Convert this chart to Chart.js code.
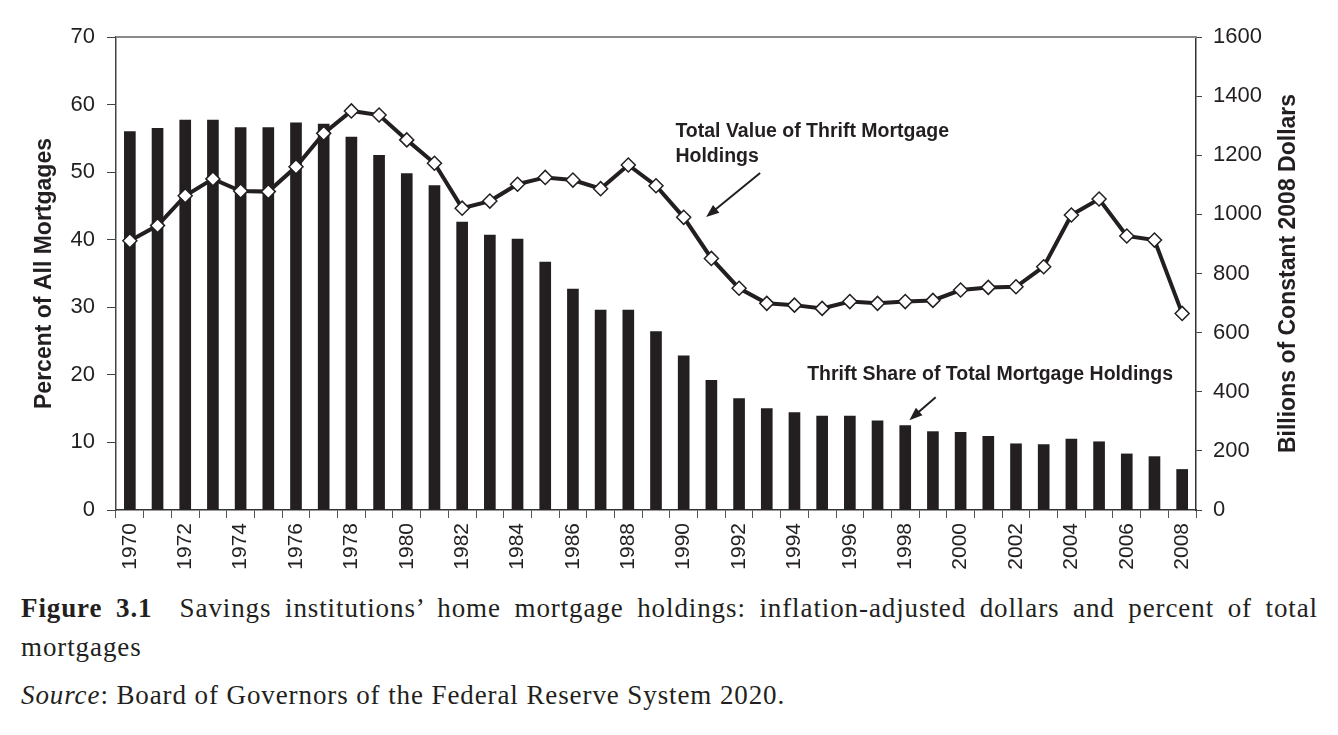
<!DOCTYPE html>
<html lang="en">
<head>
<meta charset="utf-8" />
<title>Figure 3.1 Savings institutions' home mortgage holdings</title>
<script src="https://cdn.jsdelivr.net/npm/chart.js"></script>
<style>
  html, body { margin: 0; padding: 0; background: #fff; }
  body { width: 1338px; height: 735px; position: relative; overflow: hidden; }
  #chartBox { position: absolute; left: 0; top: 0; width: 1338px; height: 580px; }
  .caption { position: absolute; left: 21px; width: 1297px; font-family: "Liberation Serif", "DejaVu Serif", serif; font-size: 27px; letter-spacing: 0.9px; color: #231f20; }
  #cap1 { top: 593px; text-align: justify; text-align-last: justify; }
  #cap2 { top: 632px; }
  #cap3 { top: 680px; }
</style>
</head>
<body>
<div id="chartBox"><canvas id="thriftChart"></canvas></div>
<div class="caption" id="cap1"><b>Figure 3.1</b>&nbsp; Savings institutions’ home mortgage holdings: inflation-adjusted dollars and percent of total</div>
<div class="caption" id="cap2">mortgages</div>
<div class="caption" id="cap3"><i>Source</i>: Board of Governors of the Federal Reserve System 2020.</div>

<script>
// categories
const years = ['1970', '1971', '1972', '1973', '1974', '1975', '1976', '1977', '1978', '1979',
               '1980', '1981', '1982', '1983', '1984', '1985', '1986', '1987', '1988', '1989',
               '1990', '1991', '1992', '1993', '1994', '1995', '1996', '1997', '1998', '1999',
               '2000', '2001', '2002', '2003', '2004', '2005', '2006', '2007', '2008'];

// thrift share of total mortgage holdings (percent, left axis)
const sharePct = [56.0, 56.5, 57.7, 57.7, 56.6, 56.6, 57.3, 57.1, 55.2, 52.5,
                  49.8, 48.0, 42.6, 40.7, 40.1, 36.7, 32.7, 29.6, 29.6, 26.4,
                  22.8, 19.2, 16.5, 15.0, 14.4, 13.9, 13.9, 13.2, 12.5, 11.6,
                  11.5, 10.9, 9.8, 9.7, 10.5, 10.1, 8.3, 7.9, 6.0];

// total value of thrift mortgage holdings (billions of 2008 dollars, right axis)
const valueBn = [911, 962, 1063, 1120, 1079, 1077, 1161, 1274, 1350, 1336,
                 1252, 1173, 1021, 1045, 1102, 1125, 1116, 1087, 1167, 1097,
                 990, 851, 750, 699, 693, 682, 705, 699, 705, 709,
                 744, 753, 755, 823, 998, 1052, 927, 913, 665];

// tick labels
const leftTicks = [0, 10, 20, 30, 40, 50, 60, 70];
const rightTicks = [0, 200, 400, 600, 800, 1000, 1200, 1400, 1600];

const ink = '#231f20';
const sans = '"Liberation Sans", Arial, sans-serif';
const yTickFont = { family: sans, size: 22 };
const xTickFont = { family: sans, size: 21 };
const titleFont = { family: sans, size: 23, weight: 'bold' };
const rightTitle = 'Billions of Constant 2008 Dollars';

// callout texts with arrows, placed in data space (category index, axis value)
const callouts = [
  { axis: 'y1', lines: ['Total Value of Thrift Mortgage', 'Holdings'], at: [19.7, 1279], lineGap: 25,
    arrow: [[22.76, 1140], [20.81, 991]] },
  { axis: 'y', lines: ['Thrift Share of Total Mortgage Holdings'], at: [24.46, 20.1], lineGap: 25,
    arrow: [[29.1, 16.7], [28.15, 13.3]] }
];

const extras = {
  id: 'extras',
  afterDatasetsDraw(chart) {
    const c = chart.ctx, a = chart.chartArea, x = chart.scales.x;
    c.save();
    // top frame line
    c.strokeStyle = '#8a8a8a';
    c.lineWidth = 2;
    c.beginPath();
    c.moveTo(a.left, a.top);
    c.lineTo(a.right, a.top);
    c.stroke();

    c.fillStyle = ink;
    c.strokeStyle = ink;
    c.font = 'bold 19.5px ' + sans;
    c.textBaseline = 'middle';
    c.textAlign = 'left';
    callouts.forEach(k => {
      const ys = chart.scales[k.axis];
      const tx = x.getPixelForValue(k.at[0]), ty = ys.getPixelForValue(k.at[1]);
      k.lines.forEach((t, i) => c.fillText(t, tx, ty + i * k.lineGap));
      const x0 = x.getPixelForValue(k.arrow[0][0]), y0 = ys.getPixelForValue(k.arrow[0][1]);
      const x1 = x.getPixelForValue(k.arrow[1][0]), y1 = ys.getPixelForValue(k.arrow[1][1]);
      const ang = Math.atan2(y1 - y0, x1 - x0);
      c.lineWidth = 2;
      c.beginPath();
      c.moveTo(x0, y0);
      c.lineTo(x1 - 8 * Math.cos(ang), y1 - 8 * Math.sin(ang));
      c.stroke();
      c.beginPath();
      c.moveTo(x1, y1);
      c.lineTo(x1 - 13 * Math.cos(ang) + 5 * Math.sin(ang), y1 - 13 * Math.sin(ang) - 5 * Math.cos(ang));
      c.lineTo(x1 - 13 * Math.cos(ang) - 5 * Math.sin(ang), y1 - 13 * Math.sin(ang) + 5 * Math.cos(ang));
      c.closePath();
      c.fill();
    });

    // right axis title reads bottom to top, like the left one
    c.translate(a.right + 93, (a.top + a.bottom) / 2);
    c.rotate(-Math.PI / 2);
    c.textAlign = 'center';
    c.font = 'bold 23px ' + sans;
    c.fillText(rightTitle, 0, 0);
    c.restore();
  }
};

new Chart(document.getElementById('thriftChart'), {
  data: {
    labels: years,
    datasets: [{
      type: 'line',
      label: 'Total Value of Thrift Mortgage Holdings',
      data: valueBn,
      yAxisID: 'y1',
      order: 0,
      borderColor: ink,
      borderWidth: 4,
      tension: 0,
      pointStyle: 'rectRot',
      pointRadius: 7,
      pointBackgroundColor: '#fff',
      pointBorderColor: ink,
      pointBorderWidth: 1.5
    }, {
      type: 'bar',
      label: 'Thrift Share of Total Mortgage Holdings',
      data: sharePct,
      yAxisID: 'y',
      order: 1,
      backgroundColor: ink,
      barThickness: 11
    }]
  },
  options: {
    responsive: true,
    maintainAspectRatio: false,
    animation: false,
    layout: { padding: { top: 37, left: 0, right: 0, bottom: 0 } },
    plugins: { legend: { display: false }, tooltip: { enabled: false } },
    scales: {
      x: {
        afterFit: s => { s.height = 70; },
        border: { color: '#333', width: 1.5 },
        grid: { drawOnChartArea: false, offset: true, color: '#555', tickLength: 8 },
        ticks: {
          color: ink, font: xTickFont, autoSkip: false, maxRotation: 90, minRotation: 90, padding: 5,
          callback: (v, i) => (i % 2 === 0 ? years[i] : '')
        }
      },
      y: {
        position: 'left',
        min: 0, max: 70,
        afterFit: s => { s.width = 116; },
        afterBuildTicks: s => { s.ticks = leftTicks.map(v => ({ value: v })); },
        border: { color: '#444', width: 1.5 },
        grid: { drawOnChartArea: false, color: '#444', tickLength: 9 },
        ticks: { color: ink, font: yTickFont, padding: 12 },
        title: { display: true, text: 'Percent of All Mortgages', color: ink, font: titleFont, padding: { top: 31, bottom: 0 } }
      },
      y1: {
        position: 'right',
        min: 0, max: 1600,
        afterFit: s => { s.width = 142; },
        afterBuildTicks: s => { s.ticks = rightTicks.map(v => ({ value: v })); },
        border: { color: '#333', width: 1.5 },
        grid: { drawOnChartArea: false, color: '#444', tickLength: 6 },
        ticks: { color: ink, font: yTickFont, padding: 11, callback: v => String(v) }
      }
    }
  },
  plugins: [extras]
});
</script>
</body>
</html>
